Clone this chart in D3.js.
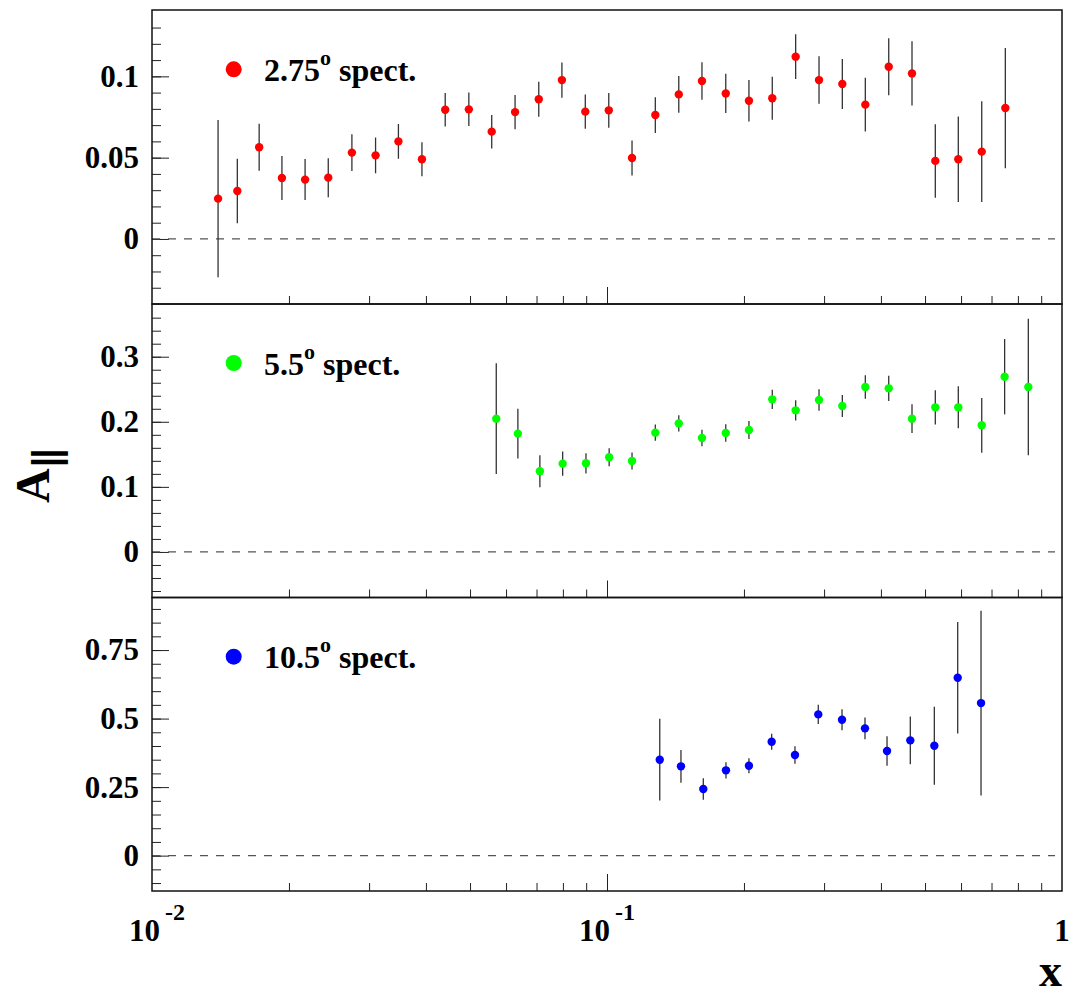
<!DOCTYPE html>
<html>
<head>
<meta charset="utf-8">
<script src="https://cdn.jsdelivr.net/npm/d3@7"></script>
<style>
  body { margin: 0; background: #fff; }
  text { font-family: "Liberation Serif", "Times New Roman", serif; font-weight: bold; }
</style>
</head>
<body>
<script>
// values
var xRed = [0.01397, 0.0154, 0.0172, 0.0193, 0.0217, 0.0244, 0.0275, 0.031, 0.0348, 0.0392,
  0.0441, 0.0497, 0.0558, 0.0628, 0.0708, 0.0796, 0.0896, 0.1009, 0.1135, 0.1277,
  0.1438, 0.1617, 0.1824, 0.2051, 0.2308, 0.2598, 0.2924, 0.329, 0.3696, 0.4161,
  0.4681, 0.5267, 0.5917, 0.6662, 0.7507];
var yRed = [0.0248, 0.0295, 0.0564, 0.0375, 0.0365, 0.0377, 0.0531, 0.0514, 0.060, 0.049,
  0.0795, 0.0797, 0.066, 0.078, 0.0859, 0.0977, 0.0783, 0.0791, 0.0498, 0.0762,
  0.0889, 0.0971, 0.0895, 0.085, 0.0865, 0.1121, 0.0977, 0.0953, 0.0826, 0.1059,
  0.1018, 0.048, 0.049, 0.0537, 0.0805];
var eRed = [0.0484, 0.0198, 0.0145, 0.0135, 0.0126, 0.012, 0.0113, 0.011, 0.0107, 0.0104,
  0.0103, 0.0103, 0.0103, 0.0105, 0.0108, 0.0108, 0.0106, 0.0107, 0.0107, 0.011,
  0.0113, 0.0115, 0.0121, 0.0127, 0.0132, 0.0138, 0.0146, 0.0154, 0.0165, 0.0176,
  0.0198, 0.0226, 0.0263, 0.031, 0.037];

var xGreen = [0.0571, 0.0637, 0.0712, 0.0799, 0.0899, 0.1011, 0.1135, 0.1277, 0.1438, 0.1617,
  0.1824, 0.2051, 0.2308, 0.2598, 0.2924, 0.329, 0.3696, 0.4161, 0.4681, 0.5267,
  0.5917, 0.6662, 0.748, 0.8433];
var yGreen = [0.2048, 0.1818, 0.1239, 0.1357, 0.1362, 0.1454, 0.1398, 0.1833, 0.1976, 0.1751,
  0.1828, 0.1874, 0.2345, 0.2176, 0.2335, 0.2243, 0.2535, 0.2514, 0.2048, 0.2222,
  0.2222, 0.1946, 0.2693, 0.2535];
var eGreen = [0.0852, 0.0382, 0.0246, 0.0187, 0.0156, 0.0138, 0.013, 0.0125, 0.0125, 0.0128,
  0.0136, 0.0138, 0.0148, 0.0156, 0.0164, 0.0169, 0.0182, 0.0195, 0.022, 0.0264,
  0.0323, 0.042, 0.0579, 0.105];

var xBlue = [0.1306, 0.1454, 0.1628, 0.1826, 0.2051, 0.2301, 0.2589, 0.2913, 0.3285, 0.369,
  0.4125, 0.4641, 0.5241, 0.5899, 0.6638];
var yBlue = [0.350, 0.3258, 0.2431, 0.3112, 0.328, 0.4155, 0.367, 0.5153, 0.4956, 0.4643,
  0.3815, 0.4205, 0.4009, 0.6487, 0.5565];
var eBlue = [0.149, 0.060, 0.039, 0.0298, 0.0273, 0.029, 0.0316, 0.0352, 0.0383, 0.040,
  0.054, 0.0875, 0.142, 0.2035, 0.337];

var legendLabels = [["2.75", "o", " spect."], ["5.5", "o", " spect."], ["10.5", "o", " spect."]];
var yDomains = [[-0.04, 0.1408], [-0.07, 0.381], [-0.129, 0.9417]];
var yMajor = [[0, 0.05, 0.1], [0, 0.1, 0.2, 0.3], [0, 0.25, 0.5, 0.75]];
var yMinorStep = [0.01, 0.02, 0.05];
var xMajor = [0.01, 0.1, 1];
var xMinor = [0.02, 0.03, 0.04, 0.05, 0.06, 0.07, 0.08, 0.09, 0.2, 0.3, 0.4, 0.5, 0.6, 0.7, 0.8, 0.9];

var series = [
  { x: xRed, y: yRed, e: eRed, color: "#ff0000" },
  { x: xGreen, y: yGreen, e: eGreen, color: "#00ff00" },
  { x: xBlue, y: yBlue, e: eBlue, color: "#0000ff" }
];

var left = 152, right = 1062;
var panelTops = [10, 304, 597.5];
var panelH = [294, 293.5, 293.5];

var svg = d3.select("body").append("svg")
  .attr("width", 1075)
  .attr("height", 995);

var x = d3.scaleLog().domain([0.01, 1]).range([left, right]);

series.forEach(function(s, i) {
  var top = panelTops[i], bottom = top + panelH[i];
  var y = d3.scaleLinear().domain(yDomains[i]).range([bottom, top]);
  var g = svg.append("g");

  // y minor ticks
  var minor = d3.range(Math.ceil(yDomains[i][0] / yMinorStep[i]), Math.floor(yDomains[i][1] / yMinorStep[i]) + 1)
    .map(function(k) { return +(k * yMinorStep[i]).toFixed(4); })
    .filter(function(v) { return y(v) > top + 3 && y(v) < bottom - 3; });
  g.append("g")
    .attr("transform", "translate(" + left + ",0)")
    .call(d3.axisLeft(y).tickValues(minor).tickSize(-9).tickFormat(""))
    .call(function(a) { a.select(".domain").remove(); a.selectAll("line").attr("stroke", "#222"); });

  // y major ticks with labels
  g.append("g")
    .attr("transform", "translate(" + left + ",0)")
    .call(d3.axisLeft(y).tickValues(yMajor[i]).tickSize(-17).tickPadding(13).tickFormat(d3.format("")))
    .call(function(a) {
      a.select(".domain").remove();
      a.selectAll("line").attr("stroke", "#222");
      a.selectAll("text").attr("font-size", 31).attr("font-family", "Liberation Serif").attr("font-weight", "bold").attr("fill", "#000");
    });

  // x ticks at the panel bottom
  g.append("g")
    .attr("transform", "translate(0," + bottom + ")")
    .call(d3.axisBottom(x).tickValues(xMinor).tickSize(-8).tickFormat(""))
    .call(function(a) { a.select(".domain").remove(); a.selectAll("line").attr("stroke", "#222"); });
  g.append("g")
    .attr("transform", "translate(0," + bottom + ")")
    .call(d3.axisBottom(x).tickValues([0.1]).tickSize(-17).tickFormat(""))
    .call(function(a) { a.select(".domain").remove(); a.selectAll("line").attr("stroke", "#222"); });

  // zero line
  g.append("line")
    .attr("x1", left).attr("x2", 1055)
    .attr("y1", y(0)).attr("y2", y(0))
    .attr("stroke", "#555").attr("stroke-width", 1.2)
    .attr("stroke-dasharray", "8,8");

  // frame
  g.append("rect")
    .attr("x", left).attr("y", top)
    .attr("width", right - left).attr("height", bottom - top)
    .attr("fill", "none").attr("stroke", "#111").attr("stroke-width", 1.5);

  // error bars
  var pts = s.x.map(function(d, k) { return { x: d, y: s.y[k], e: s.e[k] }; });
  g.selectAll(".err").data(pts).enter().append("line")
    .attr("x1", function(d) { return x(d.x); })
    .attr("x2", function(d) { return x(d.x); })
    .attr("y1", function(d) { return y(d.y - d.e); })
    .attr("y2", function(d) { return y(d.y + d.e); })
    .attr("stroke", "#333").attr("stroke-width", 1.3);

  g.selectAll(".pt").data(pts).enter().append("circle")
    .attr("cx", function(d) { return x(d.x); })
    .attr("cy", function(d) { return y(d.y); })
    .attr("r", 4.2)
    .attr("fill", s.color);

  // legend
  var ly = top + [59.3, 59, 59.2][i];
  g.append("circle").attr("cx", 233.7).attr("cy", ly).attr("r", 8).attr("fill", s.color);
  var t = g.append("text").attr("x", 264).attr("y", ly + 11.7).attr("font-size", 32);
  t.append("tspan").text(legendLabels[i][0]);
  t.append("tspan").attr("font-size", 22).attr("dy", -16).text(legendLabels[i][1]);
  t.append("tspan").attr("dy", 16).text(legendLabels[i][2]);
});

// x axis labels under the last panel
var xl = svg.append("g");
var xLabels = [["10", "-2"], ["10", "-1"], ["1", ""]];
xMajor.forEach(function(v, k) {
  var t = xl.append("text")
    .attr("x", x(v) + (k === 0 ? 5 : 0))
    .attr("y", 941)
    .attr("text-anchor", "middle")
    .attr("font-size", 31);
  t.append("tspan").text(xLabels[k][0]);
  if (xLabels[k][1]) {
    t.append("tspan").attr("font-size", 24).attr("dy", -21).attr("dx", 5).text(xLabels[k][1]);
  }
});

svg.append("text")
  .attr("x", 1062).attr("y", 986)
  .attr("text-anchor", "end")
  .attr("font-size", 46)
  .text("x");

// y axis title
var yt = svg.append("text")
  .attr("transform", "translate(49,503) rotate(-90)")
  .attr("font-size", 48);
yt.append("tspan").text("A");
yt.append("tspan").attr("font-size", 40).attr("dy", 15).attr("font-family", "DejaVu Serif").text("\u2225");
</script>
</body>
</html>
